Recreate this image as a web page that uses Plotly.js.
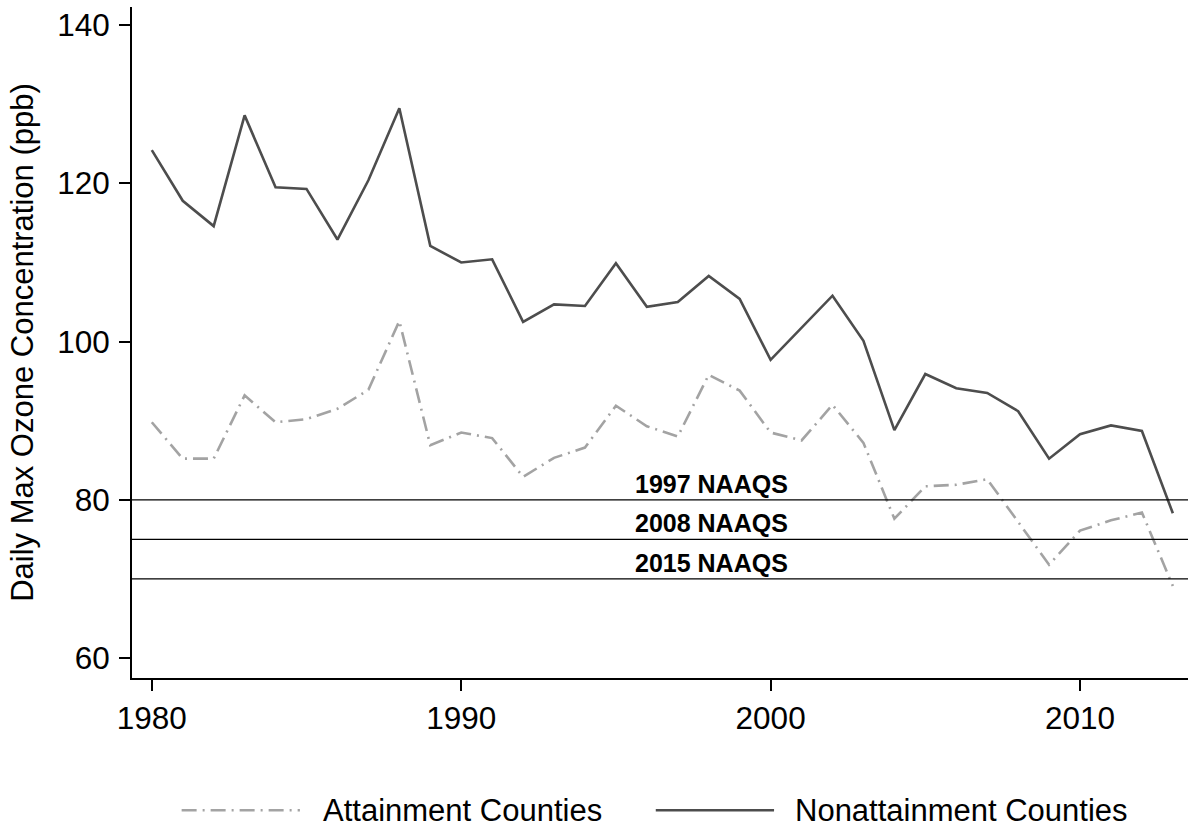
<!DOCTYPE html>
<html>
<head>
<meta charset="utf-8">
<script src="https://cdn.plot.ly/plotly-3.0.1.min.js"></script>
<style>
  html, body { margin: 0; padding: 0; background: #fff; }
  #chart { width: 1190px; height: 827px; }
</style>
</head>
<body>
<div id="chart"></div>
<script>
// Years on the x axis
const years = [1980, 1981, 1982, 1983, 1984, 1985, 1986, 1987, 1988, 1989,
  1990, 1991, 1992, 1993, 1994, 1995, 1996, 1997, 1998, 1999,
  2000, 2001, 2002, 2003, 2004, 2005, 2006, 2007, 2008, 2009,
  2010, 2011, 2012, 2013];

// Daily max ozone (ppb)
const attainment = [89.8, 85.2, 85.2, 93.2, 89.8, 90.2, 91.5, 93.9, 102.6, 86.9,
  88.5, 87.8, 82.9, 85.3, 86.6, 91.9, 89.3, 88.0, 95.8, 93.8,
  88.5, 87.5, 92.0, 87.2, 77.6, 81.7, 81.9, 82.6, 77.2, 71.8,
  76.1, 77.4, 78.4, 69.1];

const nonattainment = [124.2, 117.8, 114.6, 128.6, 119.5, 119.3, 112.9, 120.4, 129.5, 112.1,
  110.0, 110.4, 102.5, 104.7, 104.5, 109.9, 104.4, 105.0, 108.3, 105.4,
  97.7, 101.7, 105.8, 100.1, 88.8, 95.9, 94.1, 93.5, 91.2, 85.2,
  88.3, 89.4, 88.7, 78.3];

// Standards drawn as horizontal lines
const standardLevels = [80, 75, 70];
const standardLabels = ['1997 NAAQS', '2008 NAAQS', '2015 NAAQS'];
const standardLabelYear = 1998.1;

const seriesNames = ['Attainment Counties', 'Nonattainment Counties'];

const FONT = 'Liberation Sans, Arial, Helvetica, sans-serif';

// line styles, shared by traces and the legend keys below the plot
const seriesLines = [
  { color: '#a3a3a3', width: 2.6, dash: '15px,6px,2px,6px' },
  { color: '#4d4d4d', width: 2.6 }
];

const data = [
  { x: years, y: attainment, name: seriesNames[0], type: 'scatter', mode: 'lines', line: seriesLines[0] },
  { x: years, y: nonattainment, name: seriesNames[1], type: 'scatter', mode: 'lines', line: seriesLines[1] }
];

const shapes = standardLevels.map(level => ({
  type: 'line',
  xref: 'paper', x0: 0, x1: 1,
  yref: 'y', y0: level, y1: level,
  line: { color: '#000', width: 1.3 }
}));

const annotations = standardLevels.map((level, i) => ({
  x: standardLabelYear,
  y: level,
  xref: 'x', yref: 'y',
  text: '<b>' + standardLabels[i] + '</b>',
  showarrow: false,
  xanchor: 'center',
  yanchor: 'bottom',
  yshift: 0,
  font: { family: FONT, size: 25, color: '#000' }
}));

// Hand-made legend in paper coords (plotly's own legend pushes the margins)
const legendY = -0.197;
const legendKeys = [[0.047, 0.159, 0.179], [0.496, 0.608, 0.626]];
legendKeys.forEach(([k0, k1, tx], i) => {
  shapes.push({
    type: 'line', xref: 'paper', yref: 'paper',
    x0: k0, x1: k1, y0: legendY, y1: legendY,
    line: seriesLines[i]
  });
  annotations.push({
    xref: 'paper', yref: 'paper', x: tx, y: legendY,
    xanchor: 'left', yanchor: 'middle', showarrow: false,
    text: seriesNames[i],
    font: { family: FONT, size: 31, color: '#000' }
  });
});

const layout = {
  width: 1190,
  height: 827,
  margin: { l: 132, r: 2, t: 7, b: 149 },
  paper_bgcolor: '#fff',
  plot_bgcolor: '#fff',
  font: { family: FONT, size: 31, color: '#000' },
  showlegend: false,
  xaxis: {
    range: [1979.36, 2013.49],
    tickvals: [1980, 1990, 2000, 2010],
    ticks: 'outside',
    ticklen: 11,
    tickwidth: 2,
    tickcolor: '#000',
    showline: true,
    linecolor: '#000',
    linewidth: 2,
    showgrid: false,
    zeroline: false,
    tickfont: { family: FONT, size: 31.5 }
  },
  yaxis: {
    range: [57.47, 142.3],
    tickvals: [60, 80, 100, 120, 140],
    ticks: 'outside',
    ticklen: 11,
    tickwidth: 2,
    tickcolor: '#000',
    showline: true,
    linecolor: '#000',
    linewidth: 2,
    showgrid: false,
    zeroline: false,
    ticklabelstandoff: 3,
    tickfont: { family: FONT, size: 31.5 },
    title: {
      text: 'Daily Max Ozone Concentration (ppb)',
      font: { family: FONT, size: 31 },
      standoff: 14
    }
  },
  shapes: shapes,
  annotations: annotations
};

Plotly.newPlot('chart', data, layout, { displayModeBar: false, staticPlot: true });
</script>
</body>
</html>
